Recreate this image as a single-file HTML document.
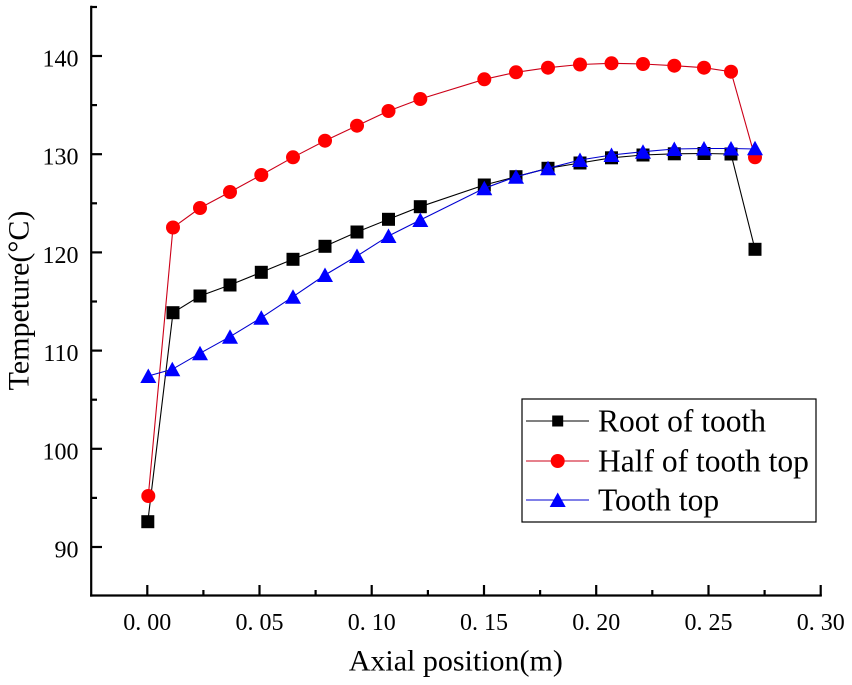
<!DOCTYPE html>
<html>
<head>
<meta charset="utf-8">
<style>
  html, body { margin:0; padding:0; background:#fff; }
  svg { display:block; }
  text { font-family: "Liberation Serif", "DejaVu Serif", serif; fill:#000; }
</style>
</head>
<body>
<svg width="852" height="685" viewBox="0 0 852 685" xmlns="http://www.w3.org/2000/svg">
  <rect x="0" y="0" width="852" height="685" fill="#fff"/>

  <!-- Axes -->
  <g stroke="#000" stroke-width="2.2" fill="none" stroke-linecap="square">
    <line x1="91.2" y1="6.9" x2="91.2" y2="595.5"/>
    <line x1="91.2" y1="595.5" x2="820.7" y2="595.5"/>
  </g>

  <!-- Y ticks: major 90..140 ; minor 85..145 -->
  <g stroke="#000" stroke-width="2.2">
    <line x1="91" y1="56" x2="102" y2="56"/>
    <line x1="91" y1="154.2" x2="102" y2="154.2"/>
    <line x1="91" y1="252.4" x2="102" y2="252.4"/>
    <line x1="91" y1="350.6" x2="102" y2="350.6"/>
    <line x1="91" y1="448.8" x2="102" y2="448.8"/>
    <line x1="91" y1="547" x2="102" y2="547"/>
    <line x1="91" y1="7" x2="97" y2="7"/>
    <line x1="91" y1="105.1" x2="97" y2="105.1"/>
    <line x1="91" y1="203.3" x2="97" y2="203.3"/>
    <line x1="91" y1="301.5" x2="97" y2="301.5"/>
    <line x1="91" y1="399.7" x2="97" y2="399.7"/>
    <line x1="91" y1="497.9" x2="97" y2="497.9"/>
  </g>

  <!-- X ticks: major 0..0.30 ; minor -->
  <g stroke="#000" stroke-width="2.2">
    <line x1="147.3" y1="596" x2="147.3" y2="585"/>
    <line x1="259.5" y1="596" x2="259.5" y2="585"/>
    <line x1="371.7" y1="596" x2="371.7" y2="585"/>
    <line x1="484" y1="596" x2="484" y2="585"/>
    <line x1="596.2" y1="596" x2="596.2" y2="585"/>
    <line x1="708.5" y1="596" x2="708.5" y2="585"/>
    <line x1="820.7" y1="596" x2="820.7" y2="585"/>
    <line x1="203.4" y1="596" x2="203.4" y2="590"/>
    <line x1="315.6" y1="596" x2="315.6" y2="590"/>
    <line x1="427.9" y1="596" x2="427.9" y2="590"/>
    <line x1="540.1" y1="596" x2="540.1" y2="590"/>
    <line x1="652.3" y1="596" x2="652.3" y2="590"/>
    <line x1="764.6" y1="596" x2="764.6" y2="590"/>
  </g>

  <!-- Y tick labels -->
  <g font-size="24" text-anchor="end">
    <text x="78.5" y="66.5">140</text>
    <text x="78.5" y="164.7">130</text>
    <text x="78.5" y="262.9">120</text>
    <text x="78.5" y="361.1">110</text>
    <text x="78.5" y="459.3">100</text>
    <text x="78.5" y="557.5">90</text>
  </g>

  <!-- X tick labels -->
  <g font-size="24" text-anchor="middle">
    <text x="147.3" y="630" xml:space="preserve">0. 00</text>
    <text x="259.5" y="630" xml:space="preserve">0. 05</text>
    <text x="371.7" y="630" xml:space="preserve">0. 10</text>
    <text x="484" y="630" xml:space="preserve">0. 15</text>
    <text x="596.2" y="630" xml:space="preserve">0. 20</text>
    <text x="708.5" y="630" xml:space="preserve">0. 25</text>
    <text x="820.7" y="630" xml:space="preserve">0. 30</text>
  </g>

  <!-- Axis titles -->
  <text x="455.8" y="670.5" font-size="30" text-anchor="middle">Axial position(m)</text>
  <text transform="translate(28.5,300.5) rotate(-90)" x="0" y="0" font-size="30" text-anchor="middle">Tempeture(°C)</text>

  <!-- Root of tooth (black) -->
  <polyline fill="none" stroke="#000" stroke-width="1.1"
    points="147.8,521.7 173,312.7 200,296 230,285 261.3,272.3 293,259.3 325,246.3 357,232 388.5,219.3 420.3,206.7 484.3,185 516,176.7 548,168.3 580,163 611.5,157.8 643,155 674.3,153.8 704,153.5 731,154 755,249.3"/>
  <g fill="#000">
    <rect x="141.3" y="515.2" width="13" height="13"/>
    <rect x="166.5" y="306.2" width="13" height="13"/>
    <rect x="193.5" y="289.5" width="13" height="13"/>
    <rect x="223.5" y="278.5" width="13" height="13"/>
    <rect x="254.8" y="265.8" width="13" height="13"/>
    <rect x="286.5" y="252.8" width="13" height="13"/>
    <rect x="318.5" y="239.8" width="13" height="13"/>
    <rect x="350.5" y="225.5" width="13" height="13"/>
    <rect x="382" y="212.8" width="13" height="13"/>
    <rect x="413.8" y="200.2" width="13" height="13"/>
    <rect x="477.8" y="178.5" width="13" height="13"/>
    <rect x="509.5" y="170.2" width="13" height="13"/>
    <rect x="541.5" y="161.8" width="13" height="13"/>
    <rect x="573.5" y="156.5" width="13" height="13"/>
    <rect x="605" y="151.3" width="13" height="13"/>
    <rect x="636.5" y="148.5" width="13" height="13"/>
    <rect x="667.8" y="147.3" width="13" height="13"/>
    <rect x="697.5" y="147" width="13" height="13"/>
    <rect x="724.5" y="147.5" width="13" height="13"/>
    <rect x="748.5" y="242.8" width="13" height="13"/>
  </g>

  <!-- Half of tooth top (red) -->
  <polyline fill="none" stroke="#cc0018" stroke-width="1.1"
    points="148.3,496 173,227.5 200,208 230,192 261.3,175 293,157.3 325,140.7 357,125.7 388.5,111 420.3,99 484.3,79.3 516,72.3 548,67.7 580,64.5 611.5,63.3 643,64 674.3,65.7 704,67.7 731,71.7 755,157.3"/>
  <g fill="#ff0000">
    <circle cx="148.3" cy="496" r="7"/>
    <circle cx="173" cy="227.5" r="7"/>
    <circle cx="200" cy="208" r="7"/>
    <circle cx="230" cy="192" r="7"/>
    <circle cx="261.3" cy="175" r="7"/>
    <circle cx="293" cy="157.3" r="7"/>
    <circle cx="325" cy="140.7" r="7"/>
    <circle cx="357" cy="125.7" r="7"/>
    <circle cx="388.5" cy="111" r="7"/>
    <circle cx="420.3" cy="99" r="7"/>
    <circle cx="484.3" cy="79.3" r="7"/>
    <circle cx="516" cy="72.3" r="7"/>
    <circle cx="548" cy="67.7" r="7"/>
    <circle cx="580" cy="64.5" r="7"/>
    <circle cx="611.5" cy="63.3" r="7"/>
    <circle cx="643" cy="64" r="7"/>
    <circle cx="674.3" cy="65.7" r="7"/>
    <circle cx="704" cy="67.7" r="7"/>
    <circle cx="731" cy="71.7" r="7"/>
    <circle cx="755" cy="157.3" r="7"/>
  </g>

  <!-- Tooth top (blue) -->
  <polyline fill="none" stroke="#0000d0" stroke-width="1.1"
    points="148.3,376 172.3,369.3 200,353.3 230,336.7 261.3,317.7 293,296.7 325,275 357,256 388.5,236 420.3,220 484.3,188.3 516,176.7 548,168.3 580,160 611.5,155 643,151.7 674.3,149 704,148.5 731,148.5 755,149"/>
  <g fill="#0000ff">
    <polygon points="148.3,368.5 156.3,383 140.3,383"/>
    <polygon points="172.3,361.8 180.3,376.3 164.3,376.3"/>
    <polygon points="200,345.8 208,360.3 192,360.3"/>
    <polygon points="230,329.2 238,343.7 222,343.7"/>
    <polygon points="261.3,310.2 269.3,324.7 253.3,324.7"/>
    <polygon points="293,289.2 301,303.7 285,303.7"/>
    <polygon points="325,267.5 333,282 317,282"/>
    <polygon points="357,248.5 365,263 349,263"/>
    <polygon points="388.5,228.5 396.5,243 380.5,243"/>
    <polygon points="420.3,212.5 428.3,227 412.3,227"/>
    <polygon points="484.3,180.8 492.3,195.3 476.3,195.3"/>
    <polygon points="516,169.2 524,183.7 508,183.7"/>
    <polygon points="548,160.8 556,175.3 540,175.3"/>
    <polygon points="580,152.5 588,167 572,167"/>
    <polygon points="611.5,147.5 619.5,162 603.5,162"/>
    <polygon points="643,144.2 651,158.7 635,158.7"/>
    <polygon points="674.3,141.5 682.3,156 666.3,156"/>
    <polygon points="704,141 712,155.5 696,155.5"/>
    <polygon points="731,141 739,155.5 723,155.5"/>
    <polygon points="755,140.7 763,155.2 747,155.2"/>
  </g>

  <!-- Legend -->
  <rect x="522" y="399" width="294" height="123" fill="#fff" stroke="#000" stroke-width="1.2"/>
  <line x1="526" y1="421" x2="589" y2="421" stroke="#000" stroke-width="1.1"/>
  <rect x="552.2" y="415.5" width="11" height="11" fill="#000"/>
  <line x1="526" y1="461" x2="589" y2="461" stroke="#cc0018" stroke-width="1.1"/>
  <circle cx="557.7" cy="461" r="7" fill="#ff0000"/>
  <line x1="526" y1="500" x2="589" y2="500" stroke="#0000d0" stroke-width="1.1"/>
  <polygon points="557.7,492.5 565.7,507 549.7,507" fill="#0000ff"/>
  <g font-size="31.5">
    <text x="598" y="431.5">Root of tooth</text>
    <text x="598" y="471.5">Half of tooth top</text>
    <text x="598" y="510.5">Tooth top</text>
  </g>
</svg>
</body>
</html>
